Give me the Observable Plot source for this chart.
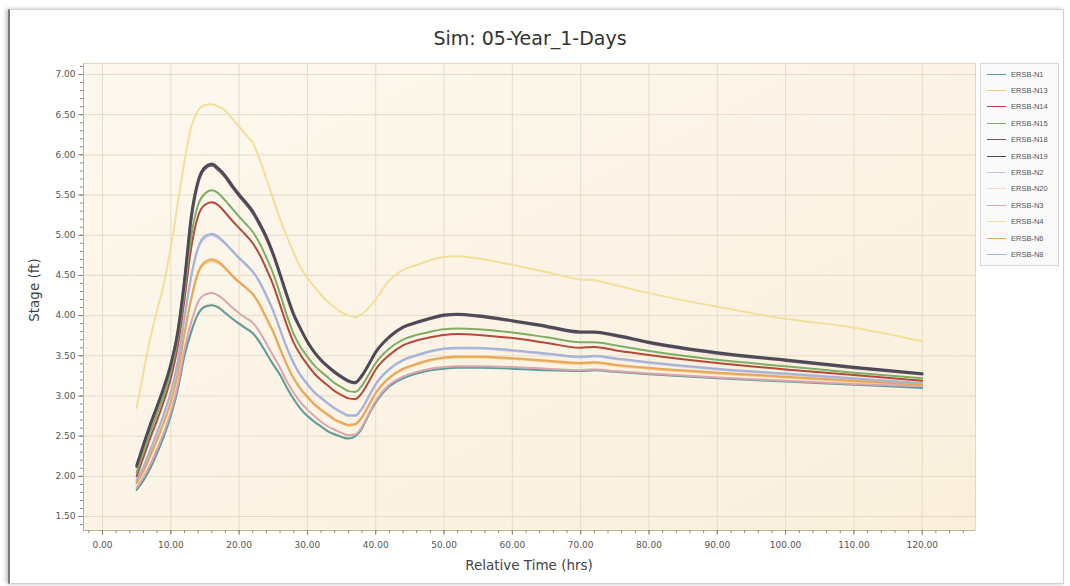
<!DOCTYPE html>
<html><head><meta charset="utf-8">
<script src="https://cdn.jsdelivr.net/npm/d3@7"></script>
<script src="https://cdn.jsdelivr.net/npm/@observablehq/plot@0.6"></script>
<style>
body{margin:0;background:#fff;}
#wrap{position:relative;width:1070px;height:586px;overflow:hidden;background:#fff;}
#panel{position:absolute;left:8px;top:9px;width:1053px;height:573px;border:1px solid #cfcfcf;border-left:2px solid #7a7a7a;box-shadow:-2px 0 4px rgba(0,0,0,0.25);}
#title{position:absolute;left:0;width:1060px;top:27px;text-align:center;font:19px "DejaVu Sans";color:#333;}
#chart{position:absolute;left:0;top:0;}
#ylab{position:absolute;left:34px;top:290px;transform:translate(-50%,-50%) rotate(-90deg);font:13.5px "DejaVu Sans";color:#444;white-space:nowrap;}
#xlab{position:absolute;left:529px;top:565px;transform:translate(-50%,-50%);font:13.5px "DejaVu Sans";color:#444;white-space:nowrap;}
#legend{position:absolute;left:980px;top:63px;width:77px;height:201px;border:1px solid #d6d6d6;background:#fafafa;font:7.5px "Liberation Sans";color:#555;}
.item{position:absolute;left:0;height:12px;display:flex;align-items:center;}
.sw{width:19px;height:0;border-top:1.5px solid;margin-left:6px;margin-right:5px;}
</style></head>
<body><div id="wrap"><div id="panel"></div><div id="title">Sim: 05-Year_1-Days</div><div id="chart"></div><div id="ylab">Stage (ft)</div><div id="xlab">Relative Time (hrs)</div><div id="legend"></div></div>
<script>
// Relative time (hrs)
const time = [5,6,7,8,9,10,11,12,13,14,15,16,17,18,19,20,21,22,23,24,25,26,27,28,29,30,31,32,33,34,35,36,37,38,39,40,42,44,46,48,50,52,55,60,65,70,72,75,80,90,100,110,120];

const ersbN1 = [1.83,1.95,2.10,2.29,2.50,2.75,3.07,3.50,3.80,4.02,4.11,4.13,
4.10,4.03,3.96,3.90,3.84,3.78,3.67,3.53,3.39,3.26,3.10,2.96,
2.84,2.75,2.68,2.62,2.56,2.52,2.49,2.47,2.50,2.60,2.77,2.92,
3.12,3.22,3.28,3.32,3.34,3.35,
3.35,3.34,3.32,3.31,3.32,3.30,3.27,
3.22,3.18,3.14,3.10];
const ersbN13 = [1.91,2.06,2.25,2.45,2.67,2.92,3.27,3.77,4.20,4.52,4.65,4.68,
4.65,4.58,4.49,4.41,4.34,4.26,4.13,3.96,3.79,3.58,3.38,3.21,
3.08,2.98,2.89,2.82,2.76,2.70,2.66,2.63,2.64,2.73,2.88,3.03,
3.22,3.33,3.39,3.44,3.47,3.48,
3.48,3.46,3.43,3.40,3.41,3.38,3.34,
3.28,3.23,3.18,3.13];
const ersbN14 = [2.00,2.24,2.48,2.70,2.94,3.22,3.61,4.20,4.85,5.24,5.38,5.41,
5.37,5.28,5.18,5.09,5.00,4.90,4.76,4.58,4.38,4.13,3.88,3.66,
3.51,3.39,3.28,3.20,3.13,3.06,3.01,2.97,2.96,3.04,3.18,3.33,
3.51,3.63,3.69,3.73,3.76,3.77,
3.76,3.72,3.66,3.60,3.61,3.57,3.51,
3.41,3.33,3.26,3.19];
const ersbN15 = [2.05,2.30,2.55,2.78,3.02,3.30,3.70,4.30,5.00,5.38,5.52,5.56,
5.52,5.43,5.33,5.23,5.14,5.04,4.90,4.72,4.52,4.27,4.00,3.77,
3.61,3.49,3.38,3.30,3.23,3.16,3.11,3.06,3.05,3.13,3.27,3.41,
3.59,3.70,3.76,3.80,3.83,3.84,
3.83,3.79,3.73,3.67,3.67,3.63,3.56,
3.45,3.37,3.29,3.22];
const ersbN18 = [2.12,2.38,2.63,2.86,3.10,3.38,3.77,4.41,5.20,5.65,5.83,5.87,
5.81,5.72,5.60,5.49,5.39,5.28,5.13,4.96,4.75,4.50,4.24,4.00,
3.83,3.67,3.54,3.44,3.36,3.29,3.23,3.18,3.16,3.25,3.39,3.54,
3.73,3.85,3.91,3.96,4.00,4.01,
3.99,3.93,3.86,3.79,3.79,3.75,3.66,
3.53,3.44,3.35,3.27];
const ersbN19 = [2.14,2.40,2.65,2.88,3.12,3.40,3.80,4.45,5.25,5.68,5.85,5.89,
5.83,5.74,5.62,5.51,5.41,5.30,5.15,4.98,4.77,4.52,4.26,4.02,
3.84,3.68,3.55,3.45,3.37,3.30,3.24,3.19,3.17,3.26,3.40,3.55,
3.74,3.86,3.92,3.97,4.01,4.02,
4.00,3.94,3.87,3.80,3.80,3.76,3.67,
3.54,3.45,3.36,3.28];
const ersbN2 = [1.94,2.11,2.32,2.54,2.77,3.04,3.41,3.96,4.48,4.83,4.97,5.00,
4.96,4.89,4.80,4.71,4.63,4.54,4.41,4.24,4.05,3.82,3.59,3.40,
3.25,3.14,3.04,2.97,2.90,2.84,2.79,2.75,2.75,2.84,2.99,3.14,
3.33,3.44,3.50,3.55,3.58,3.59,
3.59,3.56,3.52,3.48,3.49,3.46,3.41,
3.33,3.27,3.21,3.15];
const ersbN20 = [1.84,1.96,2.11,2.30,2.51,2.76,3.08,3.51,3.81,4.03,4.12,4.14,
4.11,4.04,3.97,3.91,3.85,3.79,3.68,3.54,3.40,3.27,3.11,2.97,
2.85,2.76,2.69,2.63,2.57,2.53,2.50,2.48,2.51,2.61,2.78,2.93,
3.13,3.23,3.29,3.33,3.35,3.36,
3.36,3.35,3.33,3.32,3.33,3.31,3.28,
3.23,3.19,3.15,3.11];
const ersbN3 = [1.86,1.99,2.15,2.34,2.55,2.80,3.13,3.58,3.92,4.17,4.26,4.28,
4.25,4.18,4.10,4.03,3.97,3.91,3.80,3.65,3.50,3.35,3.18,3.04,
2.92,2.83,2.75,2.68,2.62,2.58,2.54,2.51,2.52,2.62,2.78,2.94,
3.14,3.24,3.30,3.34,3.36,3.37,
3.37,3.36,3.34,3.32,3.33,3.31,3.28,
3.23,3.19,3.15,3.12];
const ersbN4 = [2.85,3.30,3.72,4.07,4.40,4.85,5.38,5.92,6.35,6.55,6.62,6.63,
6.60,6.55,6.45,6.35,6.25,6.15,5.95,5.70,5.45,5.20,4.98,4.78,
4.60,4.47,4.36,4.26,4.17,4.10,4.04,4.00,3.98,4.02,4.10,4.20,
4.44,4.57,4.63,4.69,4.73,4.74,
4.71,4.63,4.54,4.45,4.44,4.38,4.28,
4.11,3.96,3.85,3.68];
const ersbN6 = [1.92,2.07,2.26,2.46,2.68,2.93,3.28,3.78,4.22,4.54,4.67,4.70,
4.67,4.59,4.50,4.42,4.35,4.27,4.14,3.97,3.80,3.59,3.39,3.22,
3.09,2.99,2.90,2.83,2.77,2.71,2.67,2.64,2.65,2.74,2.89,3.04,
3.23,3.34,3.40,3.45,3.48,3.49,
3.49,3.47,3.44,3.41,3.42,3.39,3.35,
3.29,3.24,3.19,3.14];
const ersbN8 = [1.95,2.12,2.33,2.55,2.78,3.05,3.42,3.98,4.50,4.85,4.99,5.02,
4.98,4.90,4.81,4.72,4.64,4.55,4.42,4.25,4.06,3.83,3.60,3.41,
3.26,3.15,3.05,2.98,2.91,2.85,2.80,2.76,2.76,2.85,3.00,3.15,
3.34,3.45,3.51,3.56,3.59,3.60,
3.60,3.57,3.53,3.49,3.50,3.47,3.42,
3.34,3.28,3.22,3.16];

const seriesNames = ["ERSB-N1","ERSB-N13","ERSB-N14","ERSB-N15","ERSB-N18","ERSB-N19","ERSB-N2","ERSB-N20","ERSB-N3","ERSB-N4","ERSB-N6","ERSB-N8"];
const seriesValues = [ersbN1,ersbN13,ersbN14,ersbN15,ersbN18,ersbN19,ersbN2,ersbN20,ersbN3,ersbN4,ersbN6,ersbN8];
const xTickValues = [0,10,20,30,40,50,60,70,80,90,100,110,120];
const yTickValues = [1.5,2,2.5,3,3.5,4,4.5,5,5.5,6,6.5,7];

// styles (kept apart from data)
const seriesColors = ["#5c9c9c","#f2c77c","#b4493a","#7dae66","#6e5363","#4b4b57","#b9c7df","#f6dcc2","#dba5b0","#f2df9c","#e9a65a","#a7b2d8"];
const seriesWidths = [2,2,2,2,2.6,2.6,2,2,2,2,2,2];
const drawOrder = [7,1,6,9,0,8,10,11,2,3,4,5];

const xDomain = [-2.78, 127.8];
const yDomain = [1.326, 7.137];

const rows = seriesNames.map((name, s) => time.map((t, i) => ({name, t, v: seriesValues[s][i]})));

const xMinor = d3.range(-2, 128, 2);
const yMinor = d3.range(14, 72).map(d => d / 10);

const plot = Plot.plot({
  width: 1070, height: 586,
  marginLeft: 83, marginRight: 95, marginTop: 63, marginBottom: 56,
  x: {domain: xDomain},
  y: {domain: yDomain},
  style: {fontFamily: "DejaVu Sans", fontSize: "9px", color: "#555", background: "transparent"},
  marks: [
    Plot.frame({fill: "url(#bgGrad)", stroke: "none"}),
    Plot.gridX(xTickValues, {stroke: "#e6dcc6", strokeOpacity: 1}),
    Plot.gridY(yTickValues, {stroke: "#e6dcc6", strokeOpacity: 1}),
    ...drawOrder.map(s => Plot.line(rows[s], {x: "t", y: "v", stroke: seriesColors[s], strokeWidth: seriesWidths[s], curve: "monotone-x"})),
    Plot.frame({stroke: "#e2d8bf"}),
    Plot.ruleX([xDomain[0]], {stroke: "#bfb48c"}),
    Plot.ruleY([yDomain[0]], {stroke: "#bfb48c"}),
    Plot.axisX(xMinor, {tickSize: 3, tickFormat: () => "", label: null, stroke: "#8a8a7a"}),
    Plot.axisX(xTickValues, {tickSize: 5, tickPadding: 6, tickFormat: d => d.toFixed(2), label: null, stroke: "#8a8a7a", fill: "#555"}),
    Plot.axisY(yMinor, {tickSize: 3, tickFormat: () => "", label: null, stroke: "#8a8a7a"}),
    Plot.axisY(yTickValues, {tickSize: 5, tickPadding: 3, tickFormat: d => d.toFixed(2), label: null, stroke: "#8a8a7a", fill: "#555"})
  ]
});

const ns = "http://www.w3.org/2000/svg";
const defs = document.createElementNS(ns, "defs");
defs.innerHTML = '<linearGradient id="bgGrad" x1="0" y1="0" x2="1" y2="1"><stop offset="0" stop-color="#fdf8ef"/><stop offset="1" stop-color="#faefdc"/></linearGradient>';
plot.insertBefore(defs, plot.firstChild);
document.getElementById("chart").appendChild(plot);

const legend = document.getElementById("legend");
seriesNames.forEach((name, i) => {
  const item = document.createElement("div");
  item.className = "item";
  item.style.top = (4 + i * 16.4) + "px";
  const sw = document.createElement("span");
  sw.className = "sw";
  sw.style.borderTopColor = seriesColors[i];
  const lab = document.createElement("span");
  lab.textContent = name;
  item.appendChild(sw);
  item.appendChild(lab);
  legend.appendChild(item);
});
</script>
</body></html>
